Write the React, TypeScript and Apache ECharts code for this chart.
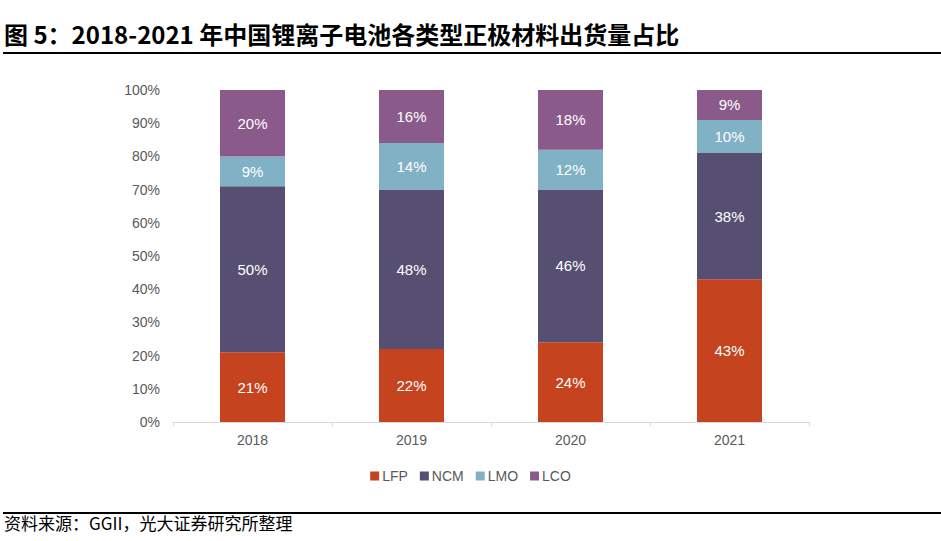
import React, { useEffect, useRef } from "react";
import * as echarts from "echarts";

const years = ["2018", "2019", "2020", "2021"];
const lfp = [21, 22, 24, 43];
const ncm = [50, 48, 46, 38];
const lmo = [9, 14, 12, 10];
const lco = [20, 16, 18, 9];
const yTicks = [0, 10, 20, 30, 40, 50, 60, 70, 80, 90, 100];

const titleText = "图 5：2018-2021 年中国锂离子电池各类型正极材料出货量占比";
const sourceText = "资料来源：GGII，光大证券研究所整理";

export default function App() {
  const ref = useRef<HTMLDivElement>(null);
  useEffect(() => {
    const chart = echarts.init(ref.current!, null, { renderer: "svg" });
    const font = "Arial, 'Liberation Sans', 'Noto Sans CJK SC', sans-serif";
    const mk = (name: string, data: number[], color: string) => ({
      name,
      type: "bar",
      stack: "total",
      data,
      barWidth: 65,
      itemStyle: { color },
      label: {
        show: true,
        position: "inside",
        color: "#ffffff",
        fontSize: 15,
        fontFamily: font,
        formatter: (p: any) => p.value + "%",
      },
    });
    chart.setOption({
      animation: false,
      textStyle: { fontFamily: font },
      grid: { left: 173, right: 132, top: 90, bottom: 119 },
      legend: {
        bottom: 53,
        left: "center",
        itemWidth: 9,
        itemHeight: 9,
        itemGap: 12,
        icon: "rect",
        textStyle: { color: "#595959", fontSize: 14, fontFamily: font, padding: [0, 0, 0, -2] },
        data: ["LFP", "NCM", "LMO", "LCO"],
      },
      xAxis: {
        type: "category",
        data: years,
        axisLine: { lineStyle: { color: "#d9d9d9", width: 1 } },
        axisTick: { show: true, lineStyle: { color: "#d9d9d9" }, length: 4 },
        axisLabel: { color: "#595959", fontSize: 14, margin: 11 },
      },
      yAxis: {
        type: "value",
        min: 0,
        max: 100,
        interval: 10,
        axisLine: { show: false },
        axisTick: { show: false },
        splitLine: { show: false },
        axisLabel: {
          color: "#595959",
          fontSize: 14,
          margin: 13,
          formatter: (v: number) => (yTicks.includes(v) ? v + "%" : ""),
        },
      },
      series: [
        mk("LFP", lfp, "#C5441F"),
        mk("NCM", ncm, "#564F71"),
        mk("LMO", lmo, "#81B1C5"),
        mk("LCO", lco, "#8A5A8B"),
      ],
      graphic: [
        {
          type: "text",
          left: 4,
          top: 21,
          style: {
            text: titleText,
            font: "bold 24px 'Noto Sans CJK SC', sans-serif",
            fill: "#000000",
          },
        },
        {
          type: "rect",
          shape: { x: 3, y: 52, width: 938, height: 2 },
          style: { fill: "#000000" },
        },
        {
          type: "rect",
          shape: { x: 3, y: 512, width: 938, height: 2 },
          style: { fill: "#000000" },
        },
        {
          type: "text",
          left: 4,
          top: 514,
          style: {
            text: sourceText,
            font: "17px 'Noto Sans CJK SC', sans-serif",
            fill: "#000000",
          },
        },
      ],
    });
    return () => chart.dispose();
  }, []);
  return <div ref={ref} style={{ width: 941, height: 541, position: "absolute", left: 0, top: 0, background: "#fff" }} />;
}
